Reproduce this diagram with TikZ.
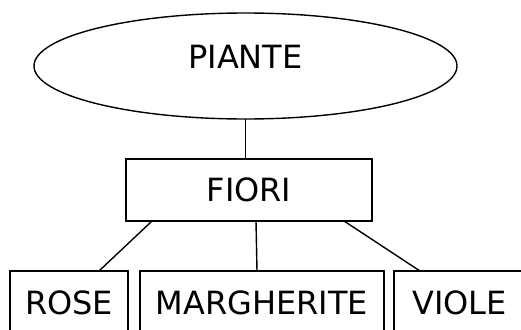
\documentclass[tikz,border=0pt]{standalone}
\usepackage{fontspec}
\setmainfont{DejaVu Sans}
\usetikzlibrary{shapes.geometric}
\begin{document}
\begin{tikzpicture}[x=1pt,y=-1pt,line width=1.4pt,
  every node/.style={outer sep=0pt,inner sep=0pt,font=\fontsize{32}{38}\selectfont,text height=23.3pt,text depth=0pt},
  oval/.style={draw,ellipse,minimum width=423pt,minimum height=106pt},
  entbox/.style={draw,rectangle,minimum height=63pt}]
\useasboundingbox (0,0) rectangle (521,329);
\clip (0,0) rectangle (521,329);
\node[oval,label={[yshift=9pt]center:PIANTE}] (piante) at (245.5,66) {};
\node[entbox,minimum width=246pt,minimum height=62pt] (fiori) at (249,190) {FIORI};
\node[entbox,minimum width=118pt] (rose) at (69,302.5) {ROSE};
\node[entbox,minimum width=244pt] (marg) at (262,302.5) {MARGHERITE};
\node[entbox,minimum width=131pt] (viole) at (459.5,302.5) {VIOLE};
\draw (piante.south) -- (piante.south |- fiori.north);
\draw ([xshift=26pt]fiori.south west) -- ([xshift=30pt]rose.north);
\draw ([xshift=7pt]fiori.south) -- ([xshift=-5pt]marg.north);
\draw ([xshift=95pt]fiori.south) -- ([xshift=-39.5pt]viole.north);
\end{tikzpicture}
\end{document}
